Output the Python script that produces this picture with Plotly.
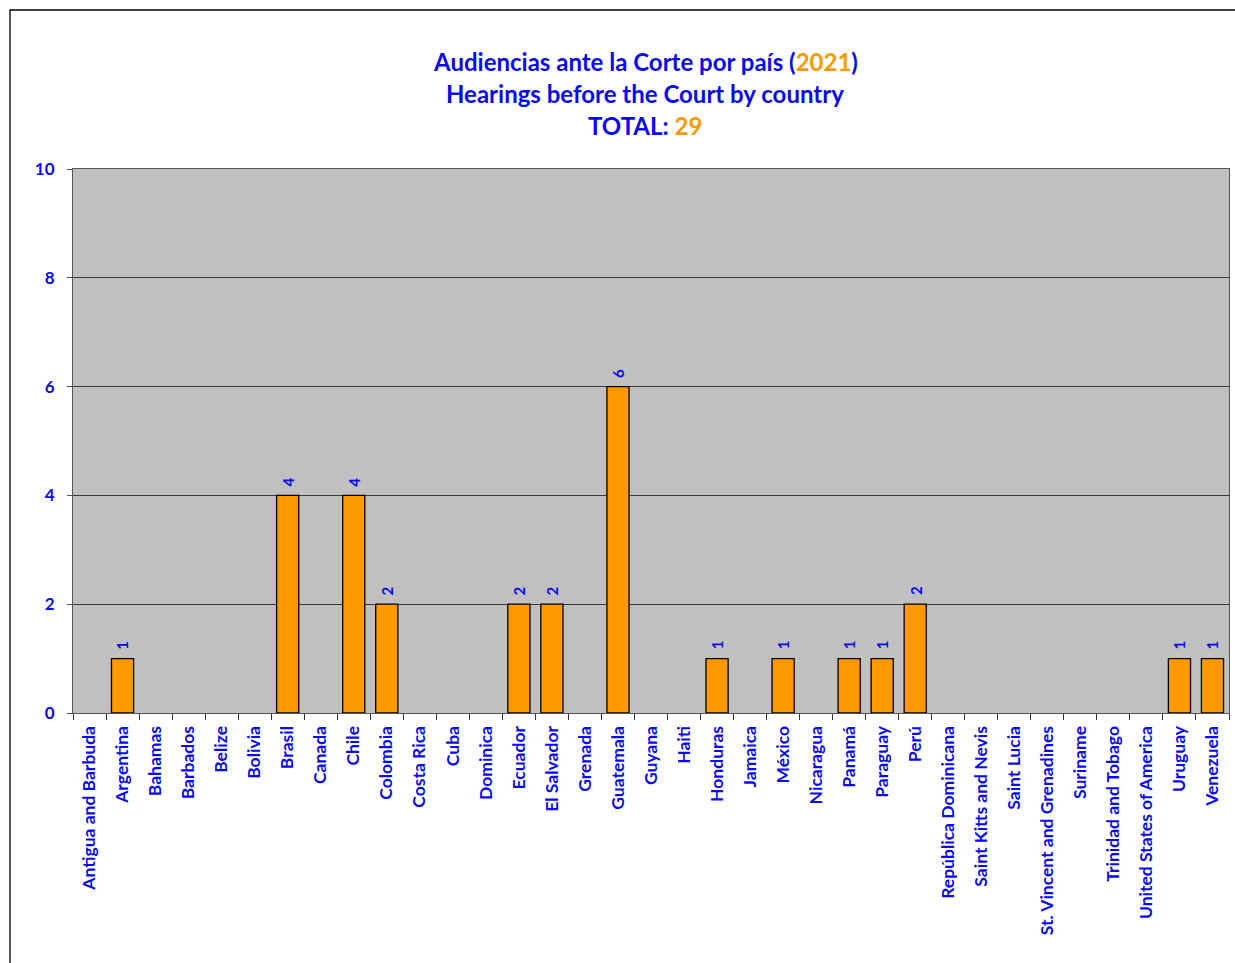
import plotly.graph_objects as go

# --- data ---
countries = [
    "Antigua and Barbuda", "Argentina", "Bahamas", "Barbados", "Belize", "Bolivia",
    "Brasil", "Canada", "Chile", "Colombia", "Costa Rica", "Cuba", "Dominica",
    "Ecuador", "El Salvador", "Grenada", "Guatemala", "Guyana", "Haiti", "Honduras",
    "Jamaica", "México", "Nicaragua", "Panamá", "Paraguay", "Perú",
    "República Dominicana", "Saint Kitts and Nevis", "Saint Lucia",
    "St. Vincent and Grenadines", "Suriname", "Trinidad and Tobago",
    "United States of America", "Uruguay", "Venezuela",
]
hearings = [0, 1, 0, 0, 0, 0, 4, 0, 4, 2, 0, 0, 0, 2, 2, 0, 6, 0, 0, 1,
            0, 1, 0, 1, 1, 2, 0, 0, 0, 0, 0, 0, 0, 1, 1]
year = "2021"
total = sum(hearings)

blue = "#0A0AF0"
orange = "#FF9900"
font_family = "Lato, 'Open Sans', sans-serif"

# zero counts get no bar and no label
bar_values = [v if v else None for v in hearings]

fig = go.Figure(go.Bar(
    x=countries,
    y=bar_values,
    marker=dict(color=orange, line=dict(color="black", width=1.3)),
    hoverinfo="x+y",
))

# --- layout ---
L, R, T, B = 73, 6, 169, 250
W, H = 1235, 963
pw, ph = W - L - R, H - T - B

def px_x(x):
    return (x - L) / pw

def px_y(y):
    return (H - B - y) / ph

title_lines = [
    f"<b>Audiencias ante la Corte por país (<span style='color:{orange}'>{year}</span>)</b>",
    "<b>Hearings before the Court by country</b>",
    f"<b>TOTAL: <span style='color:{orange}'>{total}</span></b>",
]
title_y = [62, 94, 126]
annotations = [
    dict(text=t, x=px_x(645), y=px_y(yy), xref="paper", yref="paper",
         xanchor="center", yanchor="middle", showarrow=False,
         font=dict(color=blue, size=24, family=font_family))
    for t, yy in zip(title_lines, title_y)
]
# value labels above the bars
for c, v in zip(countries, hearings):
    if v:
        annotations.append(dict(
            text=f"<b>{v}</b>", x=c, y=v, xref="x", yref="y",
            xanchor="center", yanchor="bottom", yshift=7, textangle=-90,
            showarrow=False, font=dict(color=blue, size=15, family=font_family),
        ))

fig.update_layout(
    width=W, height=H,
    margin=dict(l=L, r=R, t=T, b=B, autoexpand=False),
    paper_bgcolor="white",
    plot_bgcolor="#C0C0C0",
    showlegend=False,
    bargap=0.33,
    font=dict(family=font_family, color=blue),
    annotations=annotations,
    shapes=[dict(type="rect", xref="paper", yref="paper",
                 x0=px_x(10), x1=px_x(1300), y0=px_y(1000), y1=px_y(10),
                 line=dict(color="black", width=1.3), layer="below")],
)
fig.update_xaxes(
    type="category",
    tickangle=-90,
    tickvals=countries,
    ticktext=[f"<b>{c}</b>" for c in countries],
    tickfont=dict(size=17.5, color=blue, family=font_family),
    ticks="outside", ticklen=6, tickcolor="#333", tickson="boundaries",
    ticklabelstandoff=5,
    showline=True, linecolor="#555", linewidth=1, mirror=True,
    showgrid=False,
)
fig.update_yaxes(
    range=[0, 10],
    dtick=2,
    tickfont=dict(size=17, color=blue, family=font_family),
    tickprefix="<b>", ticksuffix="</b>",
    ticks="outside", ticklen=5, tickcolor="#555",
    ticklabelstandoff=9,
    showline=True, linecolor="#555", linewidth=1, mirror=True,
    gridcolor="#3A3A3A", gridwidth=1,
    zeroline=False,
)

fig.write_html(
    "out.html",
    config={"displayModeBar": False},
    post_script="document.body.style.margin='0';document.body.style.overflow='hidden';",
)
